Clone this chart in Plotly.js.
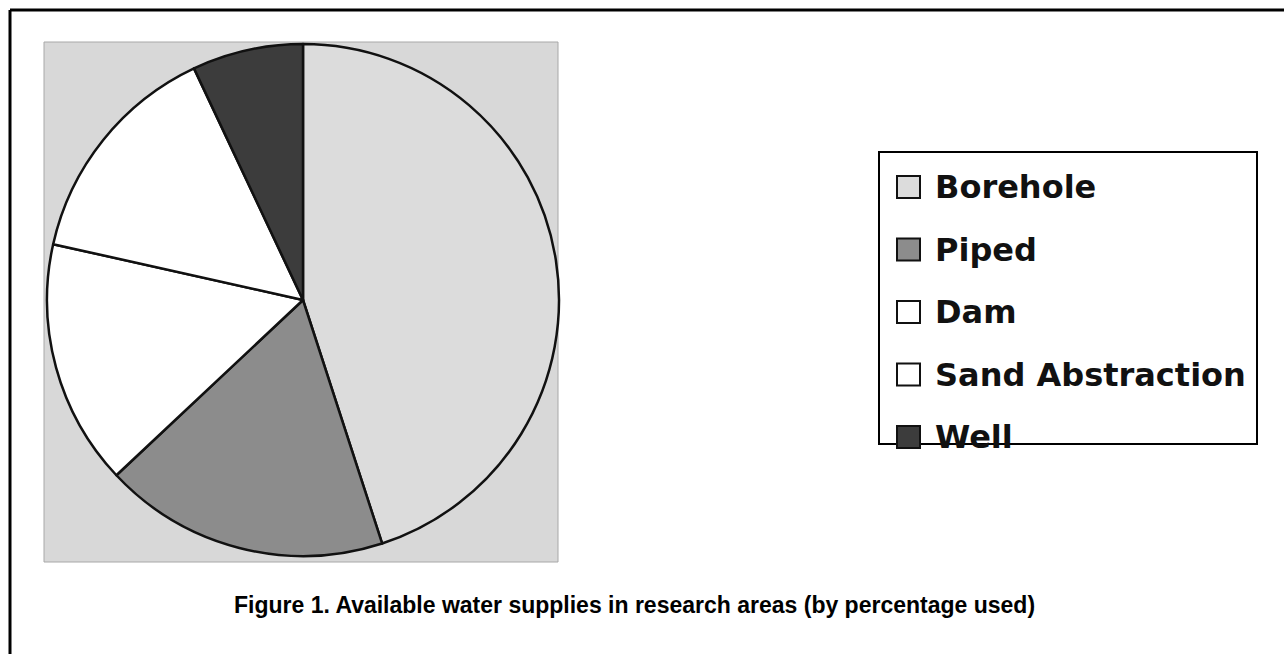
<!DOCTYPE html>
<html>
<head>
<meta charset="utf-8">
<script src="https://cdn.plot.ly/plotly-3.0.1.min.js"></script>
<style>html,body{margin:0;padding:0;background:#fff;}#chart{width:1284px;height:654px;}</style>
</head>
<body>
<div id="chart"></div>
<script>
// Data
const categories = ["Borehole", "Piped", "Dam", "Sand Abstraction", "Well"];
const shares = [45, 18, 15.5, 14.5, 7];
const sliceColors = ["#dcdcdc", "#8c8c8c", "#ffffff", "#ffffff", "#3c3c3c"];
const captionText = "Figure 1. Available water supplies in research areas (by percentage used)";

const W = 1284, H = 654;
const px = v => v / W;
const py = v => 1 - v / H;

const pie = {
  type: "pie",
  labels: categories,
  values: shares,
  sort: false,
  direction: "clockwise",
  rotation: 0,
  textinfo: "none",
  hoverinfo: "skip",
  showlegend: false,
  marker: { colors: sliceColors, line: { color: "#111", width: 2.5 } },
  domain: { x: [px(47), px(559)], y: [py(556), py(44)] }
};

const shapes = [
  // page frame (top and left)
  { type: "line", xref: "paper", yref: "paper", x0: px(10), x1: 1, y0: py(10), y1: py(10), line: { color: "#000", width: 3 } },
  { type: "line", xref: "paper", yref: "paper", x0: px(10), x1: px(10), y0: py(10), y1: 0, line: { color: "#000", width: 3 } },
  // grey plot background
  { type: "rect", xref: "paper", yref: "paper", layer: "below", x0: px(44), x1: px(558), y0: py(562), y1: py(42), fillcolor: "#d8d8d8", line: { color: "#a8a8a8", width: 1 } },
  // legend box
  { type: "rect", xref: "paper", yref: "paper", x0: px(879), x1: px(1257), y0: py(444), y1: py(152), fillcolor: "rgba(0,0,0,0)", line: { color: "#000", width: 2 } }
];

const annotations = [];
const legTop = 187, legStep = 62.5;
categories.forEach((c, i) => {
  const cy = legTop + i * legStep;
  shapes.push({ type: "rect", xref: "paper", yref: "paper", x0: px(897), x1: px(920), y0: py(cy + 11), y1: py(cy - 11), fillcolor: sliceColors[i], line: { color: "#111", width: 2 } });
  annotations.push({ xref: "paper", yref: "paper", x: px(933), y: py(cy), xanchor: "left", yanchor: "middle", showarrow: false, text: "<b>" + c + "</b>", font: { family: "DejaVu Sans", size: 32, color: "#111" } });
});

annotations.push({ xref: "paper", yref: "paper", x: px(634), y: py(605), xanchor: "center", yanchor: "middle", showarrow: false, text: "<b>" + captionText + "</b>", font: { family: "Liberation Sans", size: 23, color: "#000" } });

const layout = {
  width: W, height: H,
  margin: { l: 0, r: 0, t: 0, b: 0 },
  paper_bgcolor: "#fff",
  plot_bgcolor: "#fff",
  showlegend: false,
  shapes: shapes,
  annotations: annotations
};

Plotly.newPlot("chart", [pie], layout, { displayModeBar: false, staticPlot: true });
</script>
</body>
</html>
